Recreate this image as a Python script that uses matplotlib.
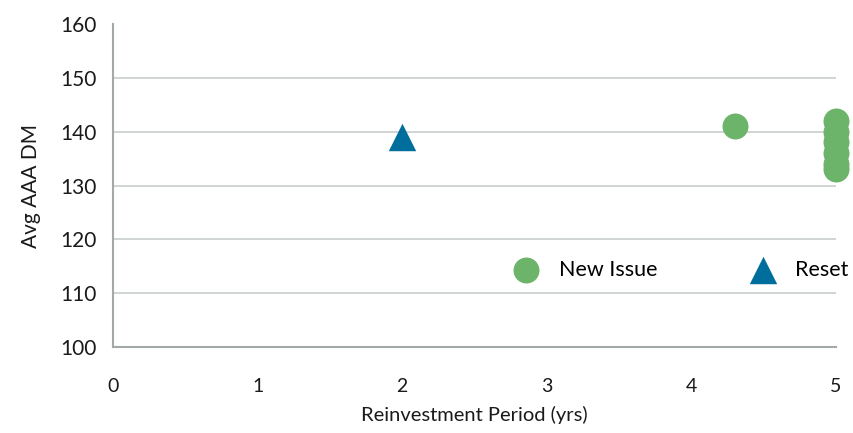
import matplotlib.pyplot as plt

plt.rcParams['font.family'] = ['Lato', 'DejaVu Sans']

# Deals by reinvestment period (yrs) and average AAA discount margin
new_issue_period = [4.3, 5.0, 5.0, 5.0, 5.0, 5.0, 5.0]
new_issue_dm = [141, 142, 140, 138, 136, 134, 133]
reset_period = [2.0]
reset_dm = [139]

green = '#6cb46a'
blue = '#006e9c'

fig = plt.figure(figsize=(8.54, 4.33), dpi=100)
ax = fig.add_axes([113/854, 1 - 347/433, 723/854, 323/433])

ax.scatter(new_issue_period, new_issue_dm, s=350, color=green, marker='o',
           linewidths=0, label='New Issue', zorder=3, clip_on=False)
ax.scatter(reset_period, reset_dm, s=390, color=blue, marker='^',
           linewidths=0, label='Reset', zorder=3, clip_on=False)

ax.set_xlim(0, 5)
ax.set_ylim(100, 160)
ax.set_xticks(range(0, 6))
ax.set_yticks(range(100, 161, 10))

ax.grid(axis='y', color='#c9cdcd', linewidth=1.2)
ax.get_ygridlines()[-1].set_visible(False)
ax.set_axisbelow(True)

for side in ['top', 'right']:
    ax.spines[side].set_visible(False)
for side in ['left', 'bottom']:
    ax.spines[side].set_color('#a3a8a8')
    ax.spines[side].set_linewidth(1.5)

ax.tick_params(axis='x', length=0, pad=22, labelsize=14, colors='#1a1a1a')
ax.tick_params(axis='y', length=0, pad=12, labelsize=15, colors='#1a1a1a')

ax.set_xlabel('Reinvestment Period (yrs)', fontsize=14.5, labelpad=8, color='#1a1a1a')
ax.set_ylabel('Avg AAA DM', fontsize=15, labelpad=14, color='#1a1a1a')

ax.legend(loc='center left', bbox_to_anchor=(2.71, 114.3), bbox_transform=ax.transData,
          ncol=2, frameon=False, fontsize=15.5, handletextpad=0.5, columnspacing=3.9,
          borderpad=0, borderaxespad=0, markerscale=1.0, scatterpoints=1)

fig.savefig('out.png', dpi=100)
